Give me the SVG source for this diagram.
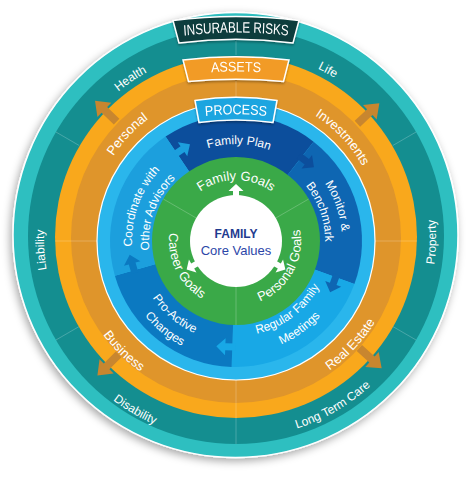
<svg xmlns="http://www.w3.org/2000/svg" xmlns:xlink="http://www.w3.org/1999/xlink" width="472" height="480" viewBox="0 0 472 480">
<defs>
<style>
.t{font-family:'Liberation Sans',Arial,sans-serif;fill:#fff;}
.s12{font-size:12px;}
.s13{font-size:13px;}
.dv{stroke:#fff;stroke-opacity:0.22;stroke-width:1;}
.ban{stroke:#fff;stroke-width:1.5;}
</style>
<filter id="sh" x="-10%" y="-10%" width="120%" height="120%">
<feDropShadow dx="-2" dy="3" stdDeviation="4" flood-color="#000" flood-opacity="0.35"/>
</filter>
<filter id="bsh" x="-10%" y="-20%" width="120%" height="150%">
<feDropShadow dx="0" dy="1.5" stdDeviation="1.2" flood-color="#000" flood-opacity="0.35"/>
</filter>
<!-- teal label paths -->
<path id="pHealth" d="M75.7,139.8 A188,188 0 0 1 208.2,52.1"/>
<path id="pLife" d="M248.1,50.4 A188,188 0 0 1 387.5,126.7"/>
<path id="pLiab" d="M75.9,344 A192,192 0 0 1 64.2,152.3"/>
<path id="pProp" d="M407.1,341.6 A200,200 0 0 0 411.3,141.6"/>
<path id="pDis" d="M59.1,338.5 A203.5,203.5 0 0 0 234.6,441.5"/>
<path id="pLtc" d="M236,438 A200,200 0 0 0 409.2,338"/>
<!-- orange label paths -->
<path id="pPers" d="M93,202.9 A147,147 0 0 1 194,96.1"/>
<path id="pInv" d="M278.2,98.3 A145,145 0 0 1 377.2,204.1"/>
<path id="pReal" d="M283.1,393 A163,163 0 0 0 394.7,274.2"/>
<path id="pBus" d="M77,281.1 A165,165 0 0 0 194.7,396.7"/>
<!-- blue label paths -->
<path id="pFP" d="M175.9,164.9 A97,97 0 0 1 300.5,168.6"/>
<path id="pMon" d="M298.3,155.2 A106,106 0 0 1 337.9,270.2"/>
<path id="pBen" d="M288.3,169 A89,89 0 0 1 321.6,265.5"/>
<path id="pReg" d="M231,335.9 A95,95 0 0 0 328.6,262.4"/>
<path id="pMeet" d="M228.1,353.7 A113,113 0 0 0 345.6,268.3"/>
<path id="pPro" d="M136.5,258.5 A101,101 0 0 0 236,342"/>
<path id="pCha" d="M120.2,263.5 A118,118 0 0 0 238.1,359"/>
<path id="pCoo" d="M138.3,276.6 A104,104 0 0 1 184,150.9"/>
<path id="pOth" d="M154.2,270.8 A87,87 0 0 1 192.5,165.7"/>
<!-- green label paths -->
<path id="pFG" d="M189.3,201.8 A61,61 0 0 1 282.7,201.8"/>
<path id="pCG" d="M174.7,214 A67,67 0 0 0 220,306.1"/>
<path id="pPG" d="M248.4,304.8 A65,65 0 0 0 296.7,217.7"/>
<!-- banner text paths (scaled coordinates) -->
<path id="pIns" d="M-100,39.73 Q0,25.27 100,39.73"/>
<path id="pAss" d="M-50,74.38 Q0,68.62 50,74.38"/>
<path id="pProc" d="M-55,118.66 Q0,109.94 55,118.66"/>
<polygon id="barrow" points="-3,-3.5 7,-3.5 7,-8.5 16,0 7,8.5 7,3.5 -3,3.5"/>
<polygon id="oarrow" points="0,-4 17,-4 17,-10 30,0 17,10 17,4 0,4"/>
<polygon id="warrow" points="44,-3 50,-3 50,-7.5 57,0 50,7.5 50,3 44,3"/>
</defs>

<g id="ring-insurable-risks">
<circle cx="235.5" cy="235" r="222.5" fill="#2fbfc0" stroke="#fff" stroke-width="1.5" filter="url(#sh)"/>
<circle cx="236" cy="236" r="208" fill="#148e90"/>
<line class="dv" x1="236" y1="55" x2="236" y2="28"/>
<line class="dv" x1="392.8" y1="145.5" x2="416.1" y2="132"/>
<line class="dv" x1="392.8" y1="326.5" x2="416.1" y2="340"/>
<line class="dv" x1="236" y1="417" x2="236" y2="444"/>
<line class="dv" x1="79.2" y1="326.5" x2="55.9" y2="340"/>
<line class="dv" x1="79.2" y1="145.5" x2="55.9" y2="132"/>
<text class="t s12"><textPath href="#pHealth" startOffset="50%" text-anchor="middle">Health</textPath></text>
<text class="t s12"><textPath href="#pLife" startOffset="50%" text-anchor="middle">Life</textPath></text>
<text class="t s12"><textPath href="#pLiab" startOffset="50%" text-anchor="middle">Liability</textPath></text>
<text class="t s12"><textPath href="#pProp" startOffset="50%" text-anchor="middle">Property</textPath></text>
<text class="t s12"><textPath href="#pDis" startOffset="50%" text-anchor="middle">Disability</textPath></text>
<text class="t s12"><textPath href="#pLtc" startOffset="50%" text-anchor="middle">Long Term Care</textPath></text>
</g>

<g id="ring-assets">
<circle cx="236" cy="237" r="181" fill="#f9a81c"/>
<circle cx="236" cy="238" r="165" fill="#df952b"/>
<line class="dv" x1="375" y1="241" x2="417" y2="241"/>
<line class="dv" x1="55" y1="241" x2="97" y2="241"/>
<line class="dv" x1="236" y1="56" x2="236" y2="100"/>
<line class="dv" x1="236" y1="380" x2="236" y2="418"/>
<text class="t s13"><textPath href="#pPers" startOffset="50%" text-anchor="middle">Personal</textPath></text>
<text class="t s13"><textPath href="#pInv" startOffset="50%" text-anchor="middle">Investments</textPath></text>
<text class="t s13"><textPath href="#pReal" startOffset="50%" text-anchor="middle">Real Estate</textPath></text>
<text class="t s13"><textPath href="#pBus" startOffset="50%" text-anchor="middle">Business</textPath></text>
</g>

<g id="ring-process">
<circle cx="236" cy="241" r="139" fill="#2ab6ec" stroke="#fff" stroke-width="1.2"/>
<path id="seg-family-plan" d="M236,241 L165.54,136.55 A126,126 0 0 1 313.58,141.71 Z" fill="#0c4e9c"/>
<path id="seg-monitor" d="M236,241 L313.58,141.71 A126,126 0 0 1 354.4,284.09 Z" fill="#0e66b2"/>
<path id="seg-regular" d="M236,241 L354.4,284.09 A126,126 0 0 1 231.6,366.92 Z" fill="#18a8e6"/>
<path id="seg-proactive" d="M236,241 L231.6,366.92 A126,126 0 0 1 114.88,275.73 Z" fill="#0b79c1"/>
<path id="seg-coordinate" d="M236,241 L114.88,275.73 A126,126 0 0 1 165.54,136.55 Z" fill="#1c9fdd"/>
</g>

<g id="connectors">
<use href="#barrow" fill="#1c9fdd" transform="translate(176.7,153.1) rotate(-34)"/>
<use href="#barrow" fill="#0c4e9c" transform="translate(301.3,157.5) rotate(38)"/>
<use href="#barrow" fill="#0e66b2" transform="translate(335.6,277.3) rotate(110)"/>
<use href="#barrow" fill="#18a8e6" transform="translate(232.3,346.9) rotate(182)"/>
<use href="#barrow" fill="#0b79c1" transform="translate(134.1,270.2) rotate(254)"/>
<g fill="#c8862f">
<use href="#oarrow" transform="translate(236,237) rotate(-136) translate(166,0)"/>
<use href="#oarrow" transform="translate(236,237) rotate(-43) translate(166,0)"/>
<use href="#oarrow" transform="translate(236,237) rotate(42) translate(166,0)"/>
<use href="#oarrow" transform="translate(236,237) rotate(135) translate(166,0)"/>
</g>
</g>

<g id="process-labels">
<text class="t s12"><textPath href="#pFP" startOffset="50%" text-anchor="middle">Family Plan</textPath></text>
<text class="t s12"><textPath href="#pMon" startOffset="50%" text-anchor="middle">Monitor &amp;</textPath></text>
<text class="t s12"><textPath href="#pBen" startOffset="50%" text-anchor="middle">Benchmark</textPath></text>
<text class="t s12"><textPath href="#pReg" startOffset="50%" text-anchor="middle">Regular Family</textPath></text>
<text class="t s12"><textPath href="#pMeet" startOffset="50%" text-anchor="middle">Meetings</textPath></text>
<text class="t s12"><textPath href="#pPro" startOffset="50%" text-anchor="middle">Pro-Active</textPath></text>
<text class="t s12"><textPath href="#pCha" startOffset="50%" text-anchor="middle">Changes</textPath></text>
<text class="t s12"><textPath href="#pCoo" startOffset="50%" text-anchor="middle">Coordinate with</textPath></text>
<text class="t s12"><textPath href="#pOth" startOffset="50%" text-anchor="middle">Other Advisors</textPath></text>
</g>

<g id="ring-goals">
<circle cx="236" cy="241" r="84" fill="#3aa948"/>
<line class="dv" x1="275.8" y1="218" x2="308.7" y2="199"/>
<line class="dv" x1="196.2" y1="218" x2="163.3" y2="199"/>
<line class="dv" x1="236" y1="287" x2="236" y2="325"/>
<text class="t s13"><textPath href="#pFG" startOffset="50%" text-anchor="middle">Family Goals</textPath></text>
<text class="t s13"><textPath href="#pCG" startOffset="50%" text-anchor="middle">Career Goals</textPath></text>
<text class="t s13"><textPath href="#pPG" startOffset="50%" text-anchor="middle">Personal Goals</textPath></text>
</g>

<g id="core">
<circle cx="236" cy="241" r="46" fill="#fff"/>
<g fill="#fff">
<use href="#warrow" transform="translate(236,241) rotate(-90)"/>
<use href="#warrow" transform="translate(236,241) rotate(30)"/>
<use href="#warrow" transform="translate(236,241) rotate(150)"/>
</g>
<text x="236" y="238" text-anchor="middle" style="font-family:'Liberation Sans',Arial,sans-serif;font-size:12px;font-weight:bold;fill:#1f3b8f">FAMILY</text>
<text x="236" y="254.5" text-anchor="middle" style="font-family:'Liberation Sans',Arial,sans-serif;font-size:13px;fill:#2c46a8">Core Values</text>
</g>

<g id="banner-process" filter="url(#bsh)">
<path class="ban" d="M195,100.5 Q236,94.1 277,100.5 L273,122.5 Q236,117.5 199,122.5 Z" fill="#1da5e0"/>
<g transform="translate(236,0) scale(0.9,1)"><text class="t" font-size="14"><textPath href="#pProc" startOffset="50%" text-anchor="middle">PROCESS</textPath></text></g>
</g>

<g id="banner-assets" filter="url(#bsh)">
<path class="ban" d="M183,60 Q236,53.4 289,60 L283.5,81.5 Q236,77 188.5,81.5 Z" fill="#f29b26"/>
<g transform="translate(236,0) scale(0.9,1)"><text class="t" font-size="14"><textPath href="#pAss" startOffset="50%" text-anchor="middle">ASSETS</textPath></text></g>
</g>

<g id="banner-insurable-risks" filter="url(#bsh)">
<path class="ban" d="M173,20.5 Q236,12.5 299,20.5 L293,43 Q236,35.6 179,43 Z" fill="#0e3d3e"/>
<g transform="translate(236,0) scale(0.78,1)"><text class="t" font-size="15"><textPath href="#pIns" startOffset="50%" text-anchor="middle">INSURABLE RISKS</textPath></text></g>
</g>
</svg>
